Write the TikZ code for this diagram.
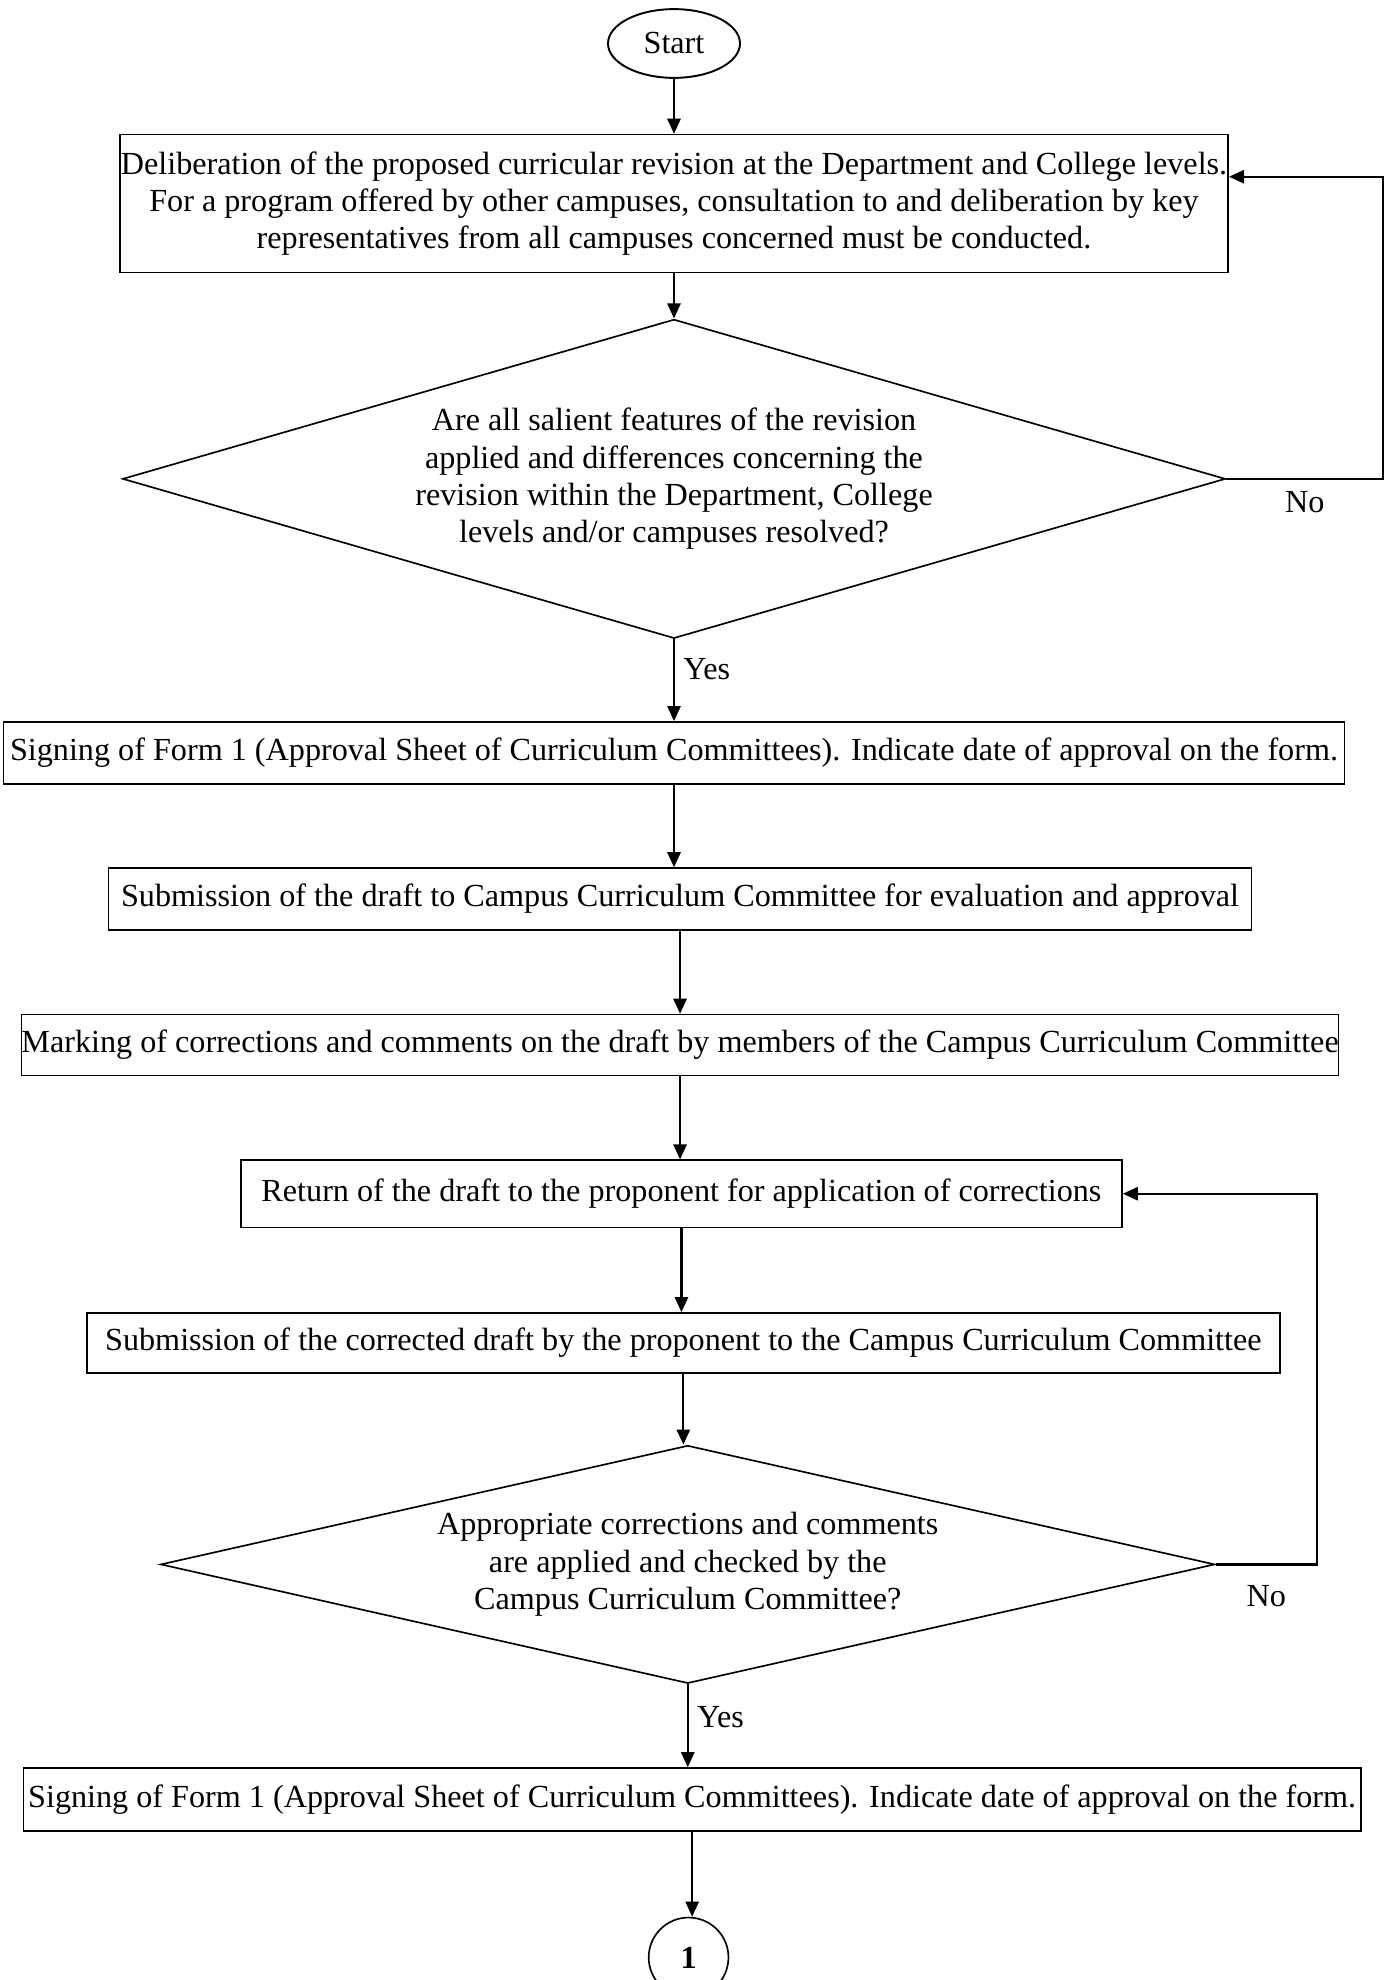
\documentclass[tikz,border=0pt]{standalone}
\usepackage{fontspec}
\setmainfont{Liberation Serif}
\usetikzlibrary{positioning,shapes.geometric,arrows.meta}

\begin{document}
\begin{tikzpicture}[x=0.3636pt, y=-0.3636pt, font=\fontsize{11.7}{13.6}\selectfont,
  box/.style={draw, line width=0.55pt, align=center, inner sep=0pt},
  dec/.style={draw, diamond, line width=0.6pt, align=center, inner sep=0pt},
  arr/.style={-{Triangle[length=5.5pt,width=4.8pt]}, line width=0.8pt}]
\useasboundingbox (0,0) rectangle (1388,1980);
\node [draw, ellipse, line width=0.7pt, minimum width=48pt, minimum height=25pt, inner sep=0pt] (start) at (674,43.5) {Start};
\node [box, below=20pt of start, minimum width=403pt, minimum height=50.2pt] (delib) {Deliberation of the proposed curricular revision at the Department and College levels.\\ For a program offered by other campuses, consultation to and deliberation by key\\ representatives from all campuses concerned must be conducted.};
\node [dec, below=16.4pt of delib, minimum width=401pt, minimum height=116pt, aspect=3.5] (check) {Are all salient features of the revision\\ applied and differences concerning the\\ revision within the Department, College\\ levels and/or campuses resolved?};
\node [box, below=29.8pt of check, minimum width=487.6pt, minimum height=22.6pt] (signa) {Signing of Form 1 (Approval Sheet of Curriculum Committees). Indicate date of approval on the form.};
\node [box, below=30pt of signa, xshift=2.2pt, minimum width=415.6pt, minimum height=22.5pt] (submit) {Submission of the draft to Campus Curriculum Committee for evaluation and approval};
\node [box, below=30.2pt of submit, minimum width=478.5pt, minimum height=22.2pt] (mark) {Marking of corrections and comments on the draft by members of the Campus Curriculum Committee};
\node [box, below=30.2pt of mark, xshift=0.5pt, minimum width=320.4pt, minimum height=24.4pt] (ret) {Return of the draft to the proponent for application of corrections};
\node [box, below=30.6pt of ret, xshift=0.7pt, minimum width=433.8pt, minimum height=21.8pt] (resub) {Submission of the corrected draft by the proponent to the Campus Curriculum Committee};
\node [dec, below=25.8pt of resub, xshift=1.6pt, minimum width=383.3pt, minimum height=86.5pt, aspect=4.5] (appr) {Appropriate corrections and comments\\ are applied and checked by the\\ Campus Curriculum Committee?};
\node [box, below=30.2pt of appr, xshift=1.6pt, minimum width=486.2pt, minimum height=22.9pt] (signb) {Signing of Form 1 (Approval Sheet of Curriculum Committees). Indicate date of approval on the form.};
\node [draw, circle, line width=0.6pt, below=30.9pt of signb, xshift=-1.3pt, minimum size=29pt, inner sep=0pt] (one) {\bfseries 1};
% main flow
\draw[arr] (start.south) -- (start.south |- delib.north);
\draw[arr] (delib.south) -- (delib.south |- check.north);
\draw[arr] (check.south) -- node[pos=0.37, right, inner sep=3pt]{Yes} (check.south |- signa.north);
\draw[arr] (signa.south) -- (signa.south |- submit.north);
\draw[arr] (submit.south) -- (submit.south |- mark.north);
\draw[arr] (mark.south) -- (mark.south |- ret.north);
\draw[arr] (ret.south) -- (ret.south |- resub.north);
\draw[arr] (resub.south) -- (resub.south |- appr.north);
\draw[arr] (appr.south) -- node[pos=0.4, right, inner sep=3pt]{Yes} (appr.south |- signb.north);
\draw[arr] (signb.south) -- (signb.south |- one.north);
% loops back
\draw[arr] (check.east) -- node[below=1pt]{No} ++(157,0) |- ([yshift=-15.6pt]delib.north east);
\draw[arr] (appr.east) -- node[below=4pt]{No} ++(101,0) |- (ret.east);
\end{tikzpicture}
\end{document}
